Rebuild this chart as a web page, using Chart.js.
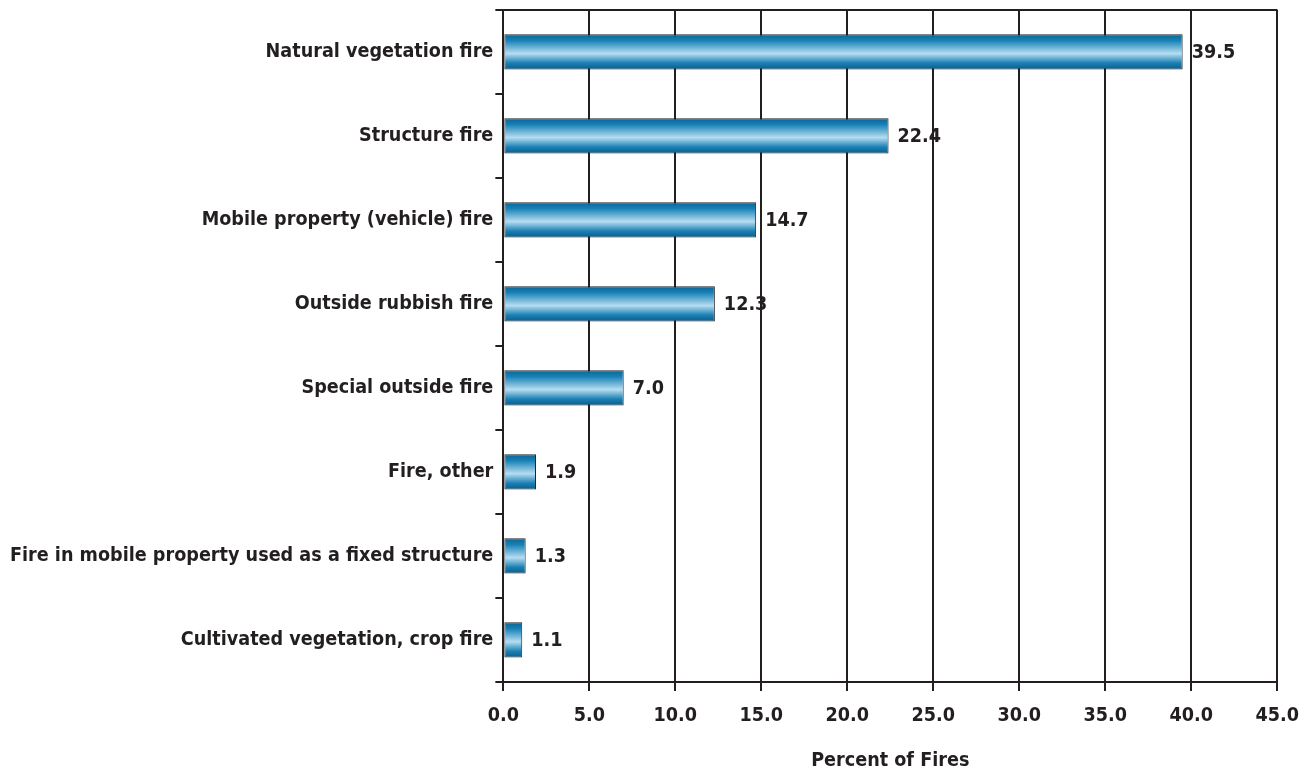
<!DOCTYPE html>
<html>
<head>
<meta charset="utf-8">
<script src="https://cdn.jsdelivr.net/npm/chart.js@4.4.1/dist/chart.umd.min.js"></script>
<style>
  body { margin: 0; background: #fff; }
  #wrap { width: 1312px; height: 773px; overflow: hidden; }
  #grafico { display: block; margin-top: -4px; }
</style>
</head>
<body>
<div id="wrap"><canvas id="grafico" width="1312" height="777"></canvas></div>
<script>
const categorias = [
  "Natural vegetation fire",
  "Structure fire",
  "Mobile property (vehicle) fire",
  "Outside rubbish fire",
  "Special outside fire",
  "Fire, other",
  "Fire in mobile property used as a fixed structure",
  "Cultivated vegetation, crop fire",
];
const porcentajes = [39.5, 22.4, 14.7, 12.3, 7.0, 1.9, 1.3, 1.1];
const ticksX = [0, 5, 10, 15, 20, 25, 30, 35, 40, 45];

const fuente = "'Liberation Sans Narrow', 'DejaVu Sans Condensed', sans-serif";
const tinta = "#231f20";
const grosor = 0.42;

// degradado vertical de cada barra, calculado desde la escala y
function colorBarra(ctx) {
  const chart = ctx.chart;
  const s = chart.scales.y;
  if (!s || !s.height) return "#1a7fb0";
  const cy = s.getPixelForValue(ctx.dataIndex);
  const h = (s.height / categorias.length) * grosor;
  if (!isFinite(cy) || !isFinite(h)) return "#1a7fb0";
  const g = chart.ctx.createLinearGradient(0, cy - h / 2, 0, cy + h / 2);
  g.addColorStop(0, "#0b6394");
  g.addColorStop(0.18, "#1781b6");
  g.addColorStop(0.55, "#b6ddf1");
  g.addColorStop(0.82, "#1a80b4");
  g.addColorStop(1, "#0a5d8c");
  return g;
}

const etiquetas = {
  id: "etiquetas",
  afterDatasetsDraw(chart) {
    const c = chart.ctx;
    c.save();
    c.font = "bold 19.6px " + fuente;
    c.fillStyle = tinta;
    c.textBaseline = "middle";
    chart.getDatasetMeta(0).data.forEach((bar, i) => {
      c.fillText(porcentajes[i].toFixed(1), bar.x + 9, bar.y + 1);
    });
    c.restore();
  },
};

new Chart(document.getElementById("grafico").getContext("2d"), {
  type: "bar",
  data: {
    labels: categorias,
    datasets: [{
      data: porcentajes,
      backgroundColor: colorBarra,
      borderColor: "#1b2730",
      borderWidth: 1,
      borderSkipped: false,
      barPercentage: grosor,
      categoryPercentage: 1,
    }],
  },
  options: {
    indexAxis: "y",
    responsive: false,
    animation: false,
    layout: { padding: { top: 6, right: 34, left: 8, bottom: 0 } },
    plugins: { legend: { display: false }, tooltip: { enabled: false } },
    scales: {
      x: {
        min: 0,
        max: 45,
        afterBuildTicks: (s) => { s.ticks = ticksX.map((v) => ({ value: v })); },
        grid: { color: tinta, lineWidth: 2, tickLength: 9, drawOnChartArea: true },
        border: { color: tinta, width: 2 },
        ticks: {
          color: tinta,
          padding: 13,
          maxRotation: 0,
          font: { family: fuente, size: 19.6, weight: "bold" },
          callback: (v) => Number(v).toFixed(1),
        },
        title: {
          display: true,
          text: "Percent of Fires",
          color: tinta,
          padding: { top: 9, bottom: 0 },
          font: { family: fuente, size: 19.6, weight: "bold" },
        },
      },
      y: {
        offset: true,
        grid: {
          offset: true,
          // solo la linea de arriba cruza el area; las demas son marcas
          color: (ctx) => (ctx.index === 0 ? tinta : "rgba(0,0,0,0)"),
          tickColor: tinta,
          lineWidth: 2,
          tickLength: 8,
          drawOnChartArea: true,
        },
        border: { color: tinta, width: 2 },
        ticks: {
          color: tinta,
          padding: 2,
          font: { family: fuente, size: 19.6, weight: "bold" },
        },
      },
    },
  },
  plugins: [etiquetas],
});
</script>
</body>
</html>
